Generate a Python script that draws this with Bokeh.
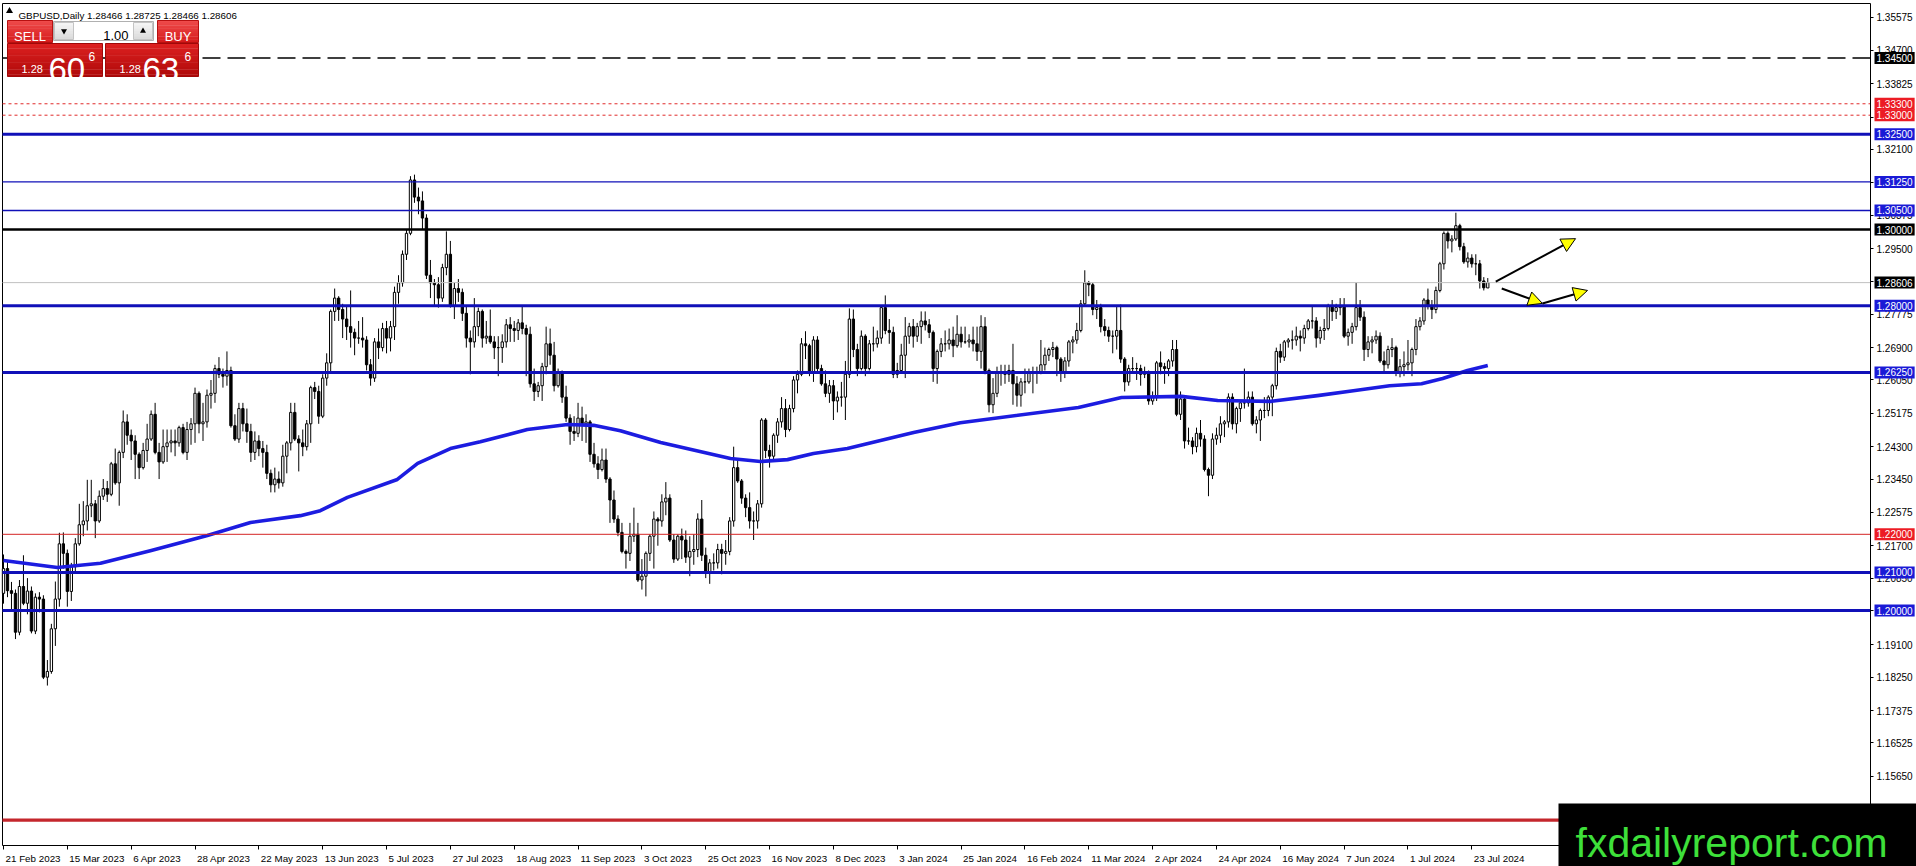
from bokeh.plotting import figure
from bokeh.models import (ColumnDataSource, FixedTicker, NumeralTickFormatter, Label, Arrow,
                          NormalHead, BoxAnnotation)
from bokeh.core.properties import value
from bokeh.embed import file_html
from bokeh.resources import INLINE

# ---------------- data ----------------
header_text = "GBPUSD,Daily  1.28466 1.28725 1.28466 1.28606"
sell_parts = ["1.28", "60", "6"]
buy_parts = ["1.28", "63", "6"]
lot_text = "1.00"
logo_text = "fxdailyreport.com"

date_labels = ["21 Feb 2023", "15 Mar 2023", "6 Apr 2023", "28 Apr 2023", "22 May 2023",
               "13 Jun 2023", "5 Jul 2023", "27 Jul 2023", "18 Aug 2023", "11 Sep 2023",
               "3 Oct 2023", "25 Oct 2023", "16 Nov 2023", "8 Dec 2023", "3 Jan 2024",
               "25 Jan 2024", "16 Feb 2024", "11 Mar 2024", "2 Apr 2024", "24 Apr 2024",
               "16 May 2024", "7 Jun 2024", "1 Jul 2024", "23 Jul 2024"]
date_label_bars = [0, 16, 32, 48, 64, 80, 96, 112, 128, 144, 160, 176, 192, 208, 224,
                   240, 256, 272, 288, 304, 320, 336, 352, 368]

y_tick_values = [1.35575, 1.34700, 1.33825, 1.32950, 1.32100, 1.31225, 1.30375, 1.29500,
                 1.28625, 1.27775, 1.26900, 1.26050, 1.25175, 1.24300, 1.23450, 1.22575,
                 1.21700, 1.20850, 1.20000, 1.19100, 1.18250, 1.17375, 1.16525, 1.15650]

level_values = [1.34500, 1.33300, 1.33000, 1.32500, 1.31250, 1.30500, 1.30000, 1.28606,
                1.28000, 1.26250, 1.22000, 1.21000, 1.20000, 1.14500]
level_boxes = [1.34500, 1.33300, 1.33000, 1.32500, 1.31250, 1.30500, 1.30000, 1.28606,
               1.28000, 1.26250, 1.22000, 1.21000, 1.20000]

opens = [
 1.2045,1.2110,1.2052,1.2045,1.1943,1.2063,1.2019,1.2051,1.1946,1.2035,
 1.2030,1.1825,1.1840,1.1952,1.2030,1.2175,1.2150,1.2050,1.2115,1.2175,
 1.2225,1.2235,1.2275,1.2280,1.2235,1.2300,1.2320,1.2305,1.2385,1.2335,
 1.2415,1.2495,1.2460,1.2445,1.2410,1.2375,1.2420,1.2450,1.2515,1.2415,
 1.2390,1.2430,1.2440,1.2445,1.2440,1.2480,1.2415,1.2475,1.2490,1.2570,
 1.2490,1.2495,1.2565,1.2570,1.2635,1.2620,1.2615,1.2630,1.2485,1.2450,
 1.2530,1.2490,1.2470,1.2415,1.2445,1.2425,1.2415,1.2360,1.2330,1.2345,
 1.2335,1.2405,1.2440,1.2520,1.2450,1.2440,1.2430,1.2490,1.2585,1.2575,
 1.2510,1.2610,1.2650,1.2785,1.2820,1.2790,1.2765,1.2745,1.2730,1.2715,
 1.2715,1.2710,1.2645,1.2610,1.2705,1.2690,1.2740,1.2715,1.2745,1.2835,
 1.2860,1.2935,1.2990,1.3130,1.3085,1.3075,1.3030,1.2880,1.2860,1.2855,
 1.2820,1.2900,1.2935,1.2800,1.2845,1.2835,1.2780,1.2715,1.2705,1.2745,
 1.2785,1.2715,1.2720,1.2705,1.2690,1.2690,1.2705,1.2750,1.2740,1.2735,
 1.2755,1.2740,1.2725,1.2595,1.2575,1.2590,1.2640,1.2700,1.2670,1.2590,
 1.2625,1.2560,1.2505,1.2470,1.2465,1.2505,1.2490,1.2495,1.2410,1.2385,
 1.2370,1.2395,1.2345,1.2290,1.2240,1.2205,1.2155,1.2150,1.2195,1.2200,
 1.2080,1.2090,1.2150,1.2195,1.2240,1.2235,1.2285,1.2295,1.2185,1.2135,
 1.2195,1.2185,1.2140,1.2155,1.2160,1.2240,1.2145,1.2100,1.2125,1.2125,
 1.2160,1.2150,1.2155,1.2235,1.2375,1.2340,1.2295,1.2270,1.2235,1.2235,
 1.2280,1.2500,1.2420,1.2405,1.2460,1.2495,1.2530,1.2475,1.2530,1.2605,
 1.2620,1.2700,1.2695,1.2625,1.2710,1.2635,1.2595,1.2570,1.2590,1.2550,
 1.2560,1.2560,1.2620,1.2765,1.2685,1.2635,1.2720,1.2635,1.2700,1.2700,
 1.2715,1.2795,1.2735,1.2730,1.2620,1.2630,1.2670,1.2720,1.2745,1.2720,
 1.2745,1.2760,1.2750,1.2730,1.2635,1.2680,1.2700,1.2700,1.2710,1.2695,
 1.2725,1.2705,1.2705,1.2710,1.2700,1.2680,1.2745,1.2630,1.2540,1.2570,
 1.2625,1.2625,1.2620,1.2630,1.2595,1.2565,1.2600,1.2600,1.2625,1.2625,
 1.2625,1.2645,1.2670,1.2685,1.2690,1.2660,1.2625,1.2655,1.2705,1.2710,
 1.2735,1.2805,1.2860,1.2855,1.2790,1.2795,1.2745,1.2735,1.2720,1.2720,
 1.2735,1.2660,1.2600,1.2635,1.2635,1.2635,1.2620,1.2625,1.2550,1.2560,
 1.2650,1.2640,1.2635,1.2655,1.2685,1.2515,1.2555,1.2445,1.2445,1.2430,
 1.2465,1.2450,1.2370,1.2355,1.2450,1.2460,1.2490,1.2495,1.2560,1.2490,
 1.2530,1.2545,1.2545,1.2560,1.2490,1.2500,1.2525,1.2525,1.2560,1.2590,
 1.2680,1.2665,1.2705,1.2710,1.2710,1.2720,1.2715,1.2740,1.2760,1.2760,
 1.2715,1.2735,1.2740,1.2800,1.2785,1.2795,1.2800,1.2720,1.2730,1.2745,
 1.2795,1.2770,1.2685,1.2705,1.2710,1.2720,1.2655,1.2645,1.2685,1.2690,
 1.2625,1.2640,1.2645,1.2650,1.2685,1.2745,1.2760,1.2815,1.2800,1.2790,
 1.2840,1.2910,1.2990,1.2970,1.2975,1.3010,1.2955,1.2915,1.2925,1.2910,
 1.2910,1.2865,1.28466]

highs = [
 1.2147,1.2127,1.2075,1.2055,1.2080,1.2145,1.2085,1.2063,1.2045,1.2048,
 1.2040,1.1870,1.1965,1.2076,1.2204,1.2205,1.2160,1.2125,1.2190,1.2280,
 1.2287,1.2343,1.2343,1.2290,1.2315,1.2345,1.2340,1.2390,1.2425,1.2420,
 1.2525,1.2515,1.2475,1.2460,1.2415,1.2440,1.2490,1.2525,1.2545,1.2440,
 1.2475,1.2475,1.2475,1.2475,1.2485,1.2490,1.2495,1.2505,1.2585,1.2575,
 1.2545,1.2580,1.2605,1.2645,1.2665,1.2635,1.2680,1.2640,1.2515,1.2545,
 1.2545,1.2530,1.2490,1.2470,1.2460,1.2445,1.2435,1.2370,1.2375,1.2365,
 1.2435,1.2445,1.2545,1.2545,1.2460,1.2475,1.2500,1.2590,1.2600,1.2590,
 1.2620,1.2675,1.2790,1.2845,1.2825,1.2805,1.2800,1.2840,1.2740,1.2760,
 1.2770,1.2720,1.2660,1.2715,1.2740,1.2755,1.2760,1.2760,1.2850,1.2880,
 1.2945,1.3000,1.3140,1.3144,1.3110,1.3100,1.3040,1.2920,1.2870,1.2875,
 1.2910,1.2995,1.2970,1.2860,1.2870,1.2845,1.2800,1.2735,1.2820,1.2795,
 1.2790,1.2760,1.2790,1.2720,1.2720,1.2725,1.2765,1.2770,1.2760,1.2765,
 1.2800,1.2750,1.2745,1.2635,1.2600,1.2650,1.2745,1.2740,1.2705,1.2635,
 1.2630,1.2590,1.2515,1.2510,1.2545,1.2535,1.2515,1.2500,1.2440,1.2405,
 1.2425,1.2425,1.2350,1.2315,1.2250,1.2230,1.2160,1.2230,1.2270,1.2230,
 1.2135,1.2155,1.2200,1.2260,1.2245,1.2305,1.2337,1.2305,1.2200,1.2200,
 1.2215,1.2210,1.2195,1.2200,1.2255,1.2290,1.2165,1.2135,1.2150,1.2175,
 1.2175,1.2185,1.2245,1.2430,1.2395,1.2345,1.2305,1.2310,1.2260,1.2290,
 1.2505,1.2505,1.2435,1.2465,1.2505,1.2560,1.2555,1.2540,1.2615,1.2630,
 1.2715,1.2733,1.2700,1.2720,1.2720,1.2645,1.2630,1.2605,1.2605,1.2575,
 1.2600,1.2655,1.2793,1.2790,1.2700,1.2735,1.2725,1.2710,1.2745,1.2735,
 1.2800,1.2827,1.2765,1.2745,1.2650,1.2700,1.2770,1.2755,1.2765,1.2755,
 1.2785,1.2785,1.2765,1.2735,1.2685,1.2715,1.2735,1.2740,1.2745,1.2775,
 1.2745,1.2745,1.2725,1.2745,1.2745,1.2775,1.2770,1.2635,1.2610,1.2640,
 1.2645,1.2645,1.2645,1.2700,1.2615,1.2610,1.2635,1.2635,1.2640,1.2640,
 1.2710,1.2690,1.2690,1.2705,1.2695,1.2665,1.2665,1.2710,1.2720,1.2755,
 1.2815,1.2893,1.2865,1.2860,1.2815,1.2805,1.2765,1.2745,1.2735,1.2800,
 1.2803,1.2665,1.2645,1.2665,1.2650,1.2645,1.2640,1.2630,1.2575,1.2655,
 1.2680,1.2650,1.2660,1.2710,1.2710,1.2575,1.2565,1.2480,1.2455,1.2480,
 1.2500,1.2460,1.2375,1.2465,1.2480,1.2510,1.2500,1.2570,1.2570,1.2535,
 1.2550,1.2635,1.2575,1.2575,1.2510,1.2530,1.2560,1.2565,1.2595,1.2690,
 1.2700,1.2710,1.2715,1.2735,1.2745,1.2735,1.2750,1.2765,1.2800,1.2770,
 1.2745,1.2765,1.2805,1.2815,1.2805,1.2820,1.2820,1.2740,1.2755,1.2860,
 1.2815,1.2785,1.2720,1.2720,1.2735,1.2730,1.2680,1.2695,1.2715,1.2695,
 1.2660,1.2680,1.2710,1.2690,1.2765,1.2770,1.2820,1.2845,1.2815,1.2850,
 1.2915,1.2995,1.2995,1.2985,1.3044,1.3015,1.2965,1.2940,1.2935,1.2935,
 1.2920,1.2875,1.28725]

lows = [
 1.2018,1.2035,1.2000,1.1925,1.1935,1.2014,1.1990,1.1940,1.1938,1.1995,
 1.1820,1.1803,1.1834,1.1907,1.2010,1.2110,1.2010,1.2025,1.2100,1.2170,
 1.2195,1.2210,1.2245,1.2190,1.2230,1.2290,1.2285,1.2300,1.2330,1.2275,
 1.2400,1.2435,1.2395,1.2345,1.2345,1.2370,1.2390,1.2445,1.2410,1.2345,
 1.2385,1.2390,1.2415,1.2405,1.2430,1.2410,1.2395,1.2435,1.2440,1.2465,
 1.2445,1.2480,1.2530,1.2545,1.2610,1.2585,1.2590,1.2480,1.2445,1.2440,
 1.2470,1.2440,1.2390,1.2395,1.2405,1.2375,1.2345,1.2310,1.2310,1.2320,
 1.2325,1.2360,1.2420,1.2445,1.2365,1.2405,1.2420,1.2440,1.2555,1.2490,
 1.2505,1.2590,1.2625,1.2760,1.2760,1.2715,1.2710,1.2690,1.2670,1.2700,
 1.2690,1.2630,1.2590,1.2600,1.2660,1.2680,1.2675,1.2680,1.2710,1.2805,
 1.2850,1.2920,1.2985,1.3070,1.3040,1.3000,1.2870,1.2820,1.2800,1.2795,
 1.2810,1.2880,1.2795,1.2765,1.2810,1.2760,1.2690,1.2620,1.2690,1.2720,
 1.2690,1.2700,1.2700,1.2660,1.2615,1.2650,1.2690,1.2705,1.2705,1.2710,
 1.2725,1.2615,1.2585,1.2550,1.2560,1.2550,1.2620,1.2645,1.2575,1.2585,
 1.2545,1.2495,1.2435,1.2445,1.2455,1.2445,1.2440,1.2390,1.2375,1.2345,
 1.2365,1.2335,1.2230,1.2230,1.2195,1.2150,1.2110,1.2130,1.2180,1.2075,
 1.2055,1.2037,1.2130,1.2110,1.2170,1.2220,1.2250,1.2180,1.2125,1.2130,
 1.2135,1.2125,1.2090,1.2120,1.2140,1.2130,1.2085,1.2070,1.2105,1.2110,
 1.2095,1.2120,1.2145,1.2220,1.2335,1.2280,1.2245,1.2215,1.2185,1.2215,
 1.2270,1.2400,1.2375,1.2390,1.2440,1.2480,1.2455,1.2470,1.2520,1.2570,
 1.2615,1.2660,1.2615,1.2600,1.2625,1.2590,1.2560,1.2545,1.2500,1.2520,
 1.2535,1.2500,1.2610,1.2665,1.2615,1.2630,1.2615,1.2630,1.2680,1.2690,
 1.2700,1.2725,1.2700,1.2610,1.2610,1.2625,1.2610,1.2700,1.2690,1.2705,
 1.2700,1.2735,1.2715,1.2600,1.2595,1.2665,1.2680,1.2685,1.2665,1.2690,
 1.2690,1.2700,1.2690,1.2680,1.2655,1.2635,1.2620,1.2520,1.2518,1.2560,
 1.2590,1.2595,1.2600,1.2540,1.2535,1.2535,1.2570,1.2595,1.2570,1.2595,
 1.2620,1.2630,1.2655,1.2665,1.2615,1.2600,1.2610,1.2640,1.2675,1.2700,
 1.2730,1.2800,1.2825,1.2775,1.2765,1.2730,1.2720,1.2705,1.2675,1.2685,
 1.2650,1.2575,1.2590,1.2625,1.2605,1.2590,1.2610,1.2540,1.2540,1.2550,
 1.2620,1.2595,1.2615,1.2640,1.2510,1.2500,1.2425,1.2435,1.2410,1.2415,
 1.2430,1.2365,1.2300,1.2345,1.2435,1.2440,1.2455,1.2480,1.2475,1.2465,
 1.2495,1.2530,1.2535,1.2485,1.2465,1.2445,1.2505,1.2510,1.2510,1.2580,
 1.2650,1.2655,1.2690,1.2685,1.2695,1.2680,1.2700,1.2735,1.2740,1.2690,
 1.2700,1.2710,1.2735,1.2760,1.2765,1.2775,1.2715,1.2695,1.2700,1.2735,
 1.2760,1.2655,1.2665,1.2675,1.2700,1.2650,1.2625,1.2635,1.2665,1.2615,
 1.2612,1.2615,1.2630,1.2615,1.2670,1.2735,1.2750,1.2790,1.2765,1.2780,
 1.2835,1.2895,1.2950,1.2940,1.2970,1.2945,1.2910,1.2900,1.2900,1.2880,
 1.2845,1.2840,1.28466]

closes = [
 1.2110,1.2052,1.2045,1.1943,1.2063,1.2019,1.2051,1.1946,1.2035,1.2030,
 1.1825,1.1840,1.1952,1.2030,1.2175,1.2150,1.2050,1.2115,1.2175,1.2225,
 1.2235,1.2275,1.2280,1.2235,1.2300,1.2320,1.2305,1.2385,1.2335,1.2415,
 1.2495,1.2460,1.2445,1.2410,1.2375,1.2420,1.2450,1.2515,1.2415,1.2390,
 1.2430,1.2440,1.2445,1.2440,1.2480,1.2415,1.2475,1.2490,1.2570,1.2490,
 1.2495,1.2565,1.2570,1.2635,1.2620,1.2615,1.2630,1.2485,1.2450,1.2530,
 1.2490,1.2470,1.2415,1.2445,1.2425,1.2415,1.2360,1.2330,1.2345,1.2335,
 1.2405,1.2440,1.2520,1.2450,1.2440,1.2430,1.2490,1.2585,1.2575,1.2510,
 1.2610,1.2650,1.2785,1.2820,1.2790,1.2765,1.2745,1.2730,1.2715,1.2715,
 1.2710,1.2645,1.2610,1.2705,1.2690,1.2740,1.2715,1.2745,1.2835,1.2860,
 1.2935,1.2990,1.3130,1.3085,1.3075,1.3030,1.2880,1.2860,1.2855,1.2820,
 1.2900,1.2935,1.2800,1.2845,1.2835,1.2780,1.2715,1.2705,1.2745,1.2785,
 1.2715,1.2720,1.2705,1.2690,1.2690,1.2705,1.2750,1.2740,1.2735,1.2755,
 1.2740,1.2725,1.2595,1.2575,1.2590,1.2640,1.2700,1.2670,1.2590,1.2625,
 1.2560,1.2505,1.2470,1.2465,1.2505,1.2490,1.2495,1.2410,1.2385,1.2370,
 1.2395,1.2345,1.2290,1.2240,1.2205,1.2155,1.2150,1.2195,1.2200,1.2080,
 1.2090,1.2150,1.2195,1.2240,1.2235,1.2285,1.2295,1.2185,1.2135,1.2195,
 1.2185,1.2140,1.2155,1.2160,1.2240,1.2145,1.2100,1.2125,1.2125,1.2160,
 1.2150,1.2155,1.2235,1.2375,1.2340,1.2295,1.2270,1.2235,1.2235,1.2280,
 1.2500,1.2420,1.2405,1.2460,1.2495,1.2530,1.2475,1.2530,1.2605,1.2620,
 1.2700,1.2695,1.2625,1.2710,1.2635,1.2595,1.2570,1.2590,1.2550,1.2560,
 1.2560,1.2620,1.2765,1.2685,1.2635,1.2720,1.2635,1.2700,1.2700,1.2715,
 1.2795,1.2735,1.2730,1.2620,1.2630,1.2670,1.2720,1.2745,1.2720,1.2745,
 1.2760,1.2750,1.2730,1.2635,1.2680,1.2700,1.2700,1.2710,1.2695,1.2725,
 1.2705,1.2705,1.2710,1.2700,1.2680,1.2745,1.2630,1.2540,1.2570,1.2625,
 1.2625,1.2620,1.2630,1.2595,1.2565,1.2600,1.2600,1.2625,1.2625,1.2625,
 1.2645,1.2670,1.2685,1.2690,1.2660,1.2625,1.2655,1.2705,1.2710,1.2735,
 1.2805,1.2860,1.2855,1.2790,1.2795,1.2745,1.2735,1.2720,1.2720,1.2735,
 1.2660,1.2600,1.2635,1.2635,1.2635,1.2620,1.2625,1.2550,1.2560,1.2650,
 1.2640,1.2635,1.2655,1.2685,1.2515,1.2555,1.2445,1.2445,1.2430,1.2465,
 1.2450,1.2370,1.2355,1.2450,1.2460,1.2490,1.2495,1.2560,1.2490,1.2530,
 1.2545,1.2545,1.2560,1.2490,1.2500,1.2525,1.2525,1.2560,1.2590,1.2680,
 1.2665,1.2705,1.2710,1.2710,1.2720,1.2715,1.2740,1.2760,1.2760,1.2715,
 1.2735,1.2740,1.2800,1.2785,1.2795,1.2800,1.2720,1.2730,1.2745,1.2795,
 1.2770,1.2685,1.2705,1.2710,1.2720,1.2655,1.2645,1.2685,1.2690,1.2625,
 1.2640,1.2645,1.2650,1.2685,1.2745,1.2760,1.2815,1.2800,1.2790,1.2840,
 1.2910,1.2990,1.2970,1.2975,1.3010,1.2955,1.2915,1.2925,1.2910,1.2910,
 1.2865,1.2847,1.28606]

ma_bars = [0, 13.5, 24.3, 36.8, 51.1, 61.9, 74.4, 79.4, 86.2, 98.7, 103.8, 112, 119.5,
           131.3, 141.4, 147.9, 154.6, 164.7, 182.2, 189.7, 196.5, 203, 211.5, 219.8,
           228.1, 239.8, 269.4, 280.2, 295.2, 304.3, 317.8, 329.3, 338.3, 347.4, 355.4,
           360.7, 366.9, 372]
ma_values = [1.2131, 1.2113, 1.2124, 1.2157, 1.2197, 1.2231, 1.2249, 1.2262, 1.2297,
             1.2344, 1.2386, 1.2425, 1.2443, 1.2475, 1.2488, 1.2486, 1.2472, 1.2441,
             1.2399, 1.2391, 1.2396, 1.2412, 1.2425, 1.2446, 1.2467, 1.2493, 1.2533,
             1.2559, 1.2562, 1.2551, 1.2549, 1.2564, 1.2577, 1.2590, 1.2595, 1.2609,
             1.2630, 1.2643]

arrow_x0 = [374.0, 375.5, 385.7]
arrow_y0 = [1.2863, 1.2845, 1.2806]
arrow_x1 = [394.0, 385.7, 397.0]
arrow_y1 = [1.2976, 1.2806, 1.2840]

# ---------------- geometry (page pixels -> data) ----------------
W, H = 1916, 866
PXB = 3.99        # pixels per bar
PXP = 3810.0      # pixels per price unit


def dx(page_x):
    return (page_x - 3) / PXB


def dy(page_y):
    return 1.3 - (page_y - 229) / PXP


CL, CR, CT, CB = 2, 1870, 3, 845   # chart area borders

FONT = "Liberation Sans"

p = figure(frame_width=W, frame_height=H, x_range=(dx(0), dx(W)), y_range=(dy(H), dy(0)),
           y_axis_location="right", toolbar_location=None, output_backend="svg",
           min_border_left=0, min_border_top=0, min_border_right=0, min_border_bottom=0,
           background_fill_color="white", border_fill_color="white")
p.grid.visible = False
p.outline_line_color = None

# chart border (left / top)
p.segment(x0=[dx(CL), dx(CL)], x1=[dx(CL), dx(CR)], y0=[dy(CT), dy(CT)], y1=[dy(CB), dy(CT)],
          line_color="black", line_width=1)

# ---------------- candles ----------------
n = len(closes)
bars = list(range(n))
p.segment(x0=bars, x1=bars, y0=lows, y1=highs, line_color="black", line_width=1)
up = dict(x=[], top=[], bottom=[])
dn = dict(x=[], top=[], bottom=[])
for i in range(n):
    o, c = opens[i], closes[i]
    d = up if c >= o else dn
    d["x"].append(i)
    d["top"].append(max(o, c))
    d["bottom"].append(min(o, c))
p.vbar(x="x", top="top", bottom="bottom", width=0.58, source=ColumnDataSource(up),
       fill_color="white", line_color="black", line_width=1)
p.vbar(x="x", top="top", bottom="bottom", width=0.58, source=ColumnDataSource(dn),
       fill_color="black", line_color="black", line_width=1)

# moving average
p.line(ma_bars, ma_values, line_color="#1c1ce0", line_width=3.6, line_join="round")

# ---------------- horizontal levels ----------------
BLUE_LINE = "#1010b8"
BLUE_BOX = "#1a1ad6"
RED_BOX = "#ec1c24"
style = {
    1.34500: ("black", 1.5, "18 7", "black"),
    1.33300: ("#e02a2a", 1, "3 3", RED_BOX),
    1.33000: ("#e02a2a", 1, "3 3", RED_BOX),
    1.32500: (BLUE_LINE, 3, "solid", BLUE_BOX),
    1.31250: (BLUE_LINE, 1.4, "solid", BLUE_BOX),
    1.30500: (BLUE_LINE, 1.4, "solid", BLUE_BOX),
    1.30000: ("black", 2.6, "solid", "black"),
    1.28606: ("#c0c0c0", 1, "solid", "black"),
    1.28000: (BLUE_LINE, 3, "solid", BLUE_BOX),
    1.26250: (BLUE_LINE, 3, "solid", BLUE_BOX),
    1.22000: ("#d42424", 1, "solid", RED_BOX),
    1.21000: (BLUE_LINE, 3, "solid", BLUE_BOX),
    1.20000: (BLUE_LINE, 3, "solid", BLUE_BOX),
    1.14500: ("#c4262c", 3.2, "solid", RED_BOX),
}
for lv in level_values:
    col, w, dash, _ = style[lv]
    p.segment(x0=[dx(CL)], x1=[dx(CR)], y0=[lv], y1=[lv], line_color=col, line_width=w,
              line_dash=dash)

# ---------------- one-click trading panel ----------------
def hexrgb(h):
    h = h.lstrip("#")
    return tuple(int(h[i:i + 2], 16) for i in (0, 2, 4))


def grad_box(x0, y0, x1, y1, c_top, c_bot, nb=14, border=None):
    a, b = hexrgb(c_top), hexrgb(c_bot)
    L, R, T, B, C = [], [], [], [], []
    for i in range(nb):
        t = i / (nb - 1)
        rgb = tuple(int(round(a[k] + (b[k] - a[k]) * t)) for k in range(3))
        ya = y0 + (y1 - y0) * i / nb
        yb = y0 + (y1 - y0) * (i + 1) / nb + 0.4
        L.append(dx(x0)); R.append(dx(x1)); T.append(dy(ya)); B.append(dy(min(yb, y1)))
        C.append("#%02x%02x%02x" % rgb)
    p.quad(left=L, right=R, top=T, bottom=B, fill_color=C, line_color=None)
    if border:
        p.quad(left=[dx(x0)], right=[dx(x1)], top=[dy(y0)], bottom=[dy(y1)],
               fill_color=None, line_color=border, line_width=1)


grad_box(7, 20, 52, 42, "#ee4a4a", "#d61c1c", border="#b81010")
grad_box(157, 20, 198, 42, "#ee4a4a", "#d61c1c", border="#b81010")
grad_box(7, 43, 102, 76, "#dc2020", "#b00a0a", border="#a00808")
grad_box(105, 43, 198, 76, "#dc2020", "#b00a0a", border="#a00808")
p.quad(left=[dx(53)], right=[dx(153)], top=[dy(21)], bottom=[dy(40)],
       fill_color="white", line_color="#b0b0b0")
grad_box(54, 22, 73, 39, "#f4f4f4", "#dcdcdc", nb=6, border="#c4c4c4")
grad_box(133, 22, 152, 39, "#f4f4f4", "#dcdcdc", nb=6, border="#c4c4c4")
p.scatter(x=[dx(63.5)], y=[dy(30.5)], marker="inverted_triangle", size=6,
          fill_color="black", line_color=None)
p.scatter(x=[dx(142.5)], y=[dy(30.5)], marker="triangle", size=6,
          fill_color="black", line_color=None)
p.text(x=[dx(128)], y=[dy(35)], text=[lot_text], text_font=value(FONT), text_font_size="13px",
       text_color="black", text_align="right", text_baseline="alphabetic")
p.text(x=[dx(29.5), dx(177.5)], y=[dy(36), dy(36)], text=["SELL", "BUY"], text_font=value(FONT),
       text_font_size="13px", text_color="white", text_align="center", text_baseline="alphabetic")
p.text(x=[dx(21), dx(119)], y=[dy(68), dy(68)], text=[sell_parts[0], buy_parts[0]],
       text_font=value(FONT), text_font_size="11px", text_color="white", text_baseline="alphabetic")
p.text(x=[dx(48), dx(142)], y=[dy(69), dy(69)], text=[sell_parts[1], buy_parts[1]],
       text_font=value(FONT), text_font_size="33px", text_color="white", text_baseline="alphabetic")
p.text(x=[dx(88), dx(184)], y=[dy(56), dy(56)], text=[sell_parts[2], buy_parts[2]],
       text_font=value(FONT), text_font_size="12px", text_color="white", text_baseline="alphabetic")

# header
p.scatter(x=[dx(9)], y=[dy(10.5)], marker="triangle", size=7, fill_color="black", line_color=None)
p.text(x=[dx(18)], y=[dy(14.5)], text=[header_text], text_font=value(FONT), text_font_size="9.8px",
       text_color="black", text_baseline="alphabetic")

# ---------------- axes (fixed at the chart borders) ----------------
yax = p.yaxis[0]
yax.fixed_location = dx(CR)
yax.bounds = (dy(CB), dy(CT))
yax.ticker = FixedTicker(ticks=y_tick_values)
yax.formatter = NumeralTickFormatter(format="0.00000")
yax.axis_line_color = "black"
yax.major_tick_line_color = "black"
yax.major_tick_out = 3
yax.major_tick_in = 0
yax.minor_tick_line_color = None
yax.major_label_standoff = 3
yax.major_label_text_font = FONT
yax.major_label_text_font_size = "10px"
yax.major_label_text_color = "black"

CW = {' ': 0.278, 'F': 0.611, 'M': 0.833, 'A': 0.667, 'J': 0.5, 'S': 0.667, 'O': 0.778,
      'N': 0.722, 'D': 0.722, 'r': 0.333, 'l': 0.222, 't': 0.278, 'y': 0.5, 'c': 0.5, 'v': 0.5,
      'i': 0.222}


def text_w(s, size):
    return sum(CW.get(ch, 0.556) for ch in s) * size


XFS = 9.8
centers = [round(b + (2 + text_w(lbl, XFS) / 2) / PXB, 2)
           for b, lbl in zip(date_label_bars, date_labels)]
xax = p.xaxis[0]
xax.fixed_location = dy(CB)
xax.bounds = (dx(CL), dx(CR))
xax.ticker = FixedTicker(ticks=centers, minor_ticks=date_label_bars)
xax.major_label_overrides = {c: lbl for c, lbl in zip(centers, date_labels)}
xax.axis_line_color = "black"
xax.major_tick_line_color = None
xax.major_tick_out = 0
xax.major_tick_in = 0
xax.minor_tick_line_color = "black"
xax.minor_tick_out = 4
xax.minor_tick_in = 0
xax.major_label_standoff = 3
xax.major_label_text_font = FONT
xax.major_label_text_font_size = "%.1fpx" % XFS
xax.major_label_text_color = "black"

# ---------------- arrows ----------------
for i in range(len(arrow_x0)):
    p.add_layout(Arrow(end=NormalHead(size=14, fill_color="#ffff00", line_color="black", line_width=1),
                       x_start=arrow_x0[i], y_start=arrow_y0[i], x_end=arrow_x1[i], y_end=arrow_y1[i],
                       line_color="black", line_width=2))

# ---------------- level price boxes on the axis ----------------
for lv in level_boxes:
    p.add_layout(Label(x=dx(1874), y=lv, text="%.5f" % lv, text_font=FONT, text_font_size="10px",
                       text_color="white", text_align="left", text_baseline="middle",
                       background_fill_color=style[lv][3], padding=2))

# ---------------- logo ----------------
p.add_layout(BoxAnnotation(left=dx(1558), right=dx(W), top=dy(803), bottom=dy(H),
                           fill_color="black", fill_alpha=1.0, line_color=None))
p.add_layout(Label(x=dx(1575), y=dy(842), text=logo_text, text_font=FONT, text_font_size="41px",
                   text_color="#3ee03a", text_align="left", text_baseline="alphabetic"))

open("out.html", "w").write(file_html(p, INLINE))
